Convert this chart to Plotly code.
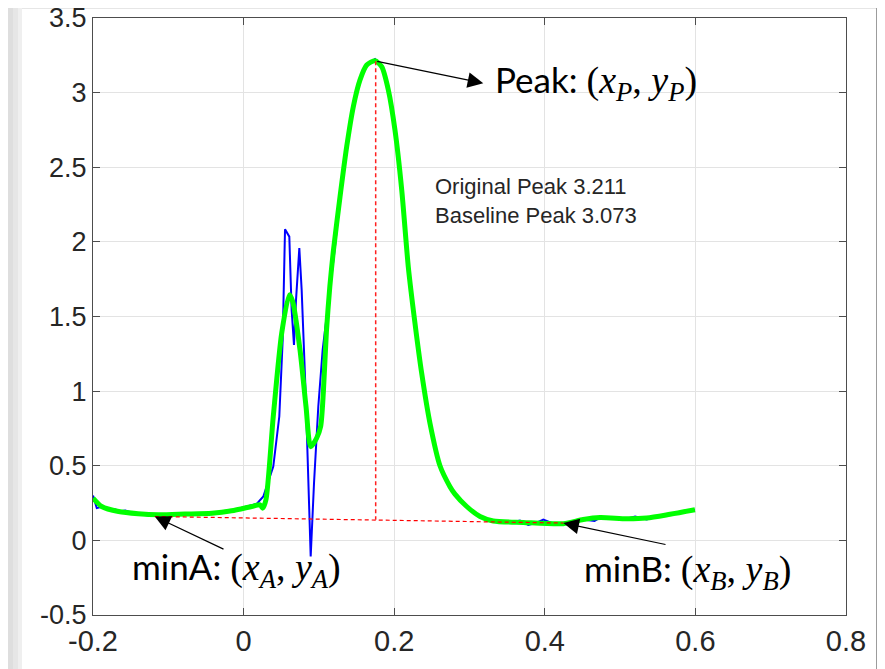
import plotly.graph_objects as go

# ---------------- data ----------------
orig_x = [-0.2, -0.195, -0.1885, -0.18, -0.172, -0.164, -0.157, -0.145, -0.124, -0.113,
          -0.078, -0.042, -0.016, -0.0048, 0.0174, 0.0262, 0.0394, 0.0474, 0.0519, 0.055,
          0.0607, 0.0638, 0.0669, 0.0696, 0.074, 0.0771, 0.0824, 0.0891, 0.0935, 0.0992,
          0.105, 0.1125, 0.117, 0.121, 0.128, 0.1369, 0.1457, 0.1546, 0.1635, 0.1745,
          0.1834, 0.1922, 0.201, 0.210, 0.2187, 0.2276, 0.2365, 0.2475, 0.2608, 0.2741,
          0.2807, 0.2963, 0.314, 0.3316, 0.36, 0.367, 0.378, 0.39, 0.398, 0.41,
          0.4246, 0.451, 0.466, 0.4733, 0.5088, 0.52, 0.5353, 0.545, 0.5663, 0.58, 0.5994]
orig_y = [0.30, 0.216, 0.225, 0.205, 0.21, 0.195, 0.20, 0.18, 0.165, 0.17,
          0.176, 0.182, 0.198, 0.216, 0.245, 0.294, 0.495, 0.83, 1.343, 2.085,
          2.035, 1.544, 1.31, 1.611, 1.958, 1.678, 0.986, -0.108, 0.383, 0.897,
          1.276, 1.60, 1.80, 1.95, 2.30, 2.638, 2.906, 3.085, 3.185, 3.225,
          3.174, 3.018, 2.75, 2.348, 1.834, 1.455, 1.12, 0.785, 0.50, 0.36,
          0.31, 0.227, 0.16, 0.13, 0.125, 0.133, 0.104, 0.12, 0.14, 0.115,
          0.112, 0.14, 0.13, 0.153, 0.145, 0.16, 0.14, 0.155, 0.175, 0.19, 0.205]

smooth_x = [-0.2, -0.1885, -0.166, -0.14, -0.113, -0.078, -0.042, -0.016, 0.0108, 0.0218,
            0.0254, 0.0297, 0.0394, 0.0506, 0.0607, 0.0652, 0.0749, 0.0829, 0.0891, 0.097,
            0.1023, 0.106, 0.110, 0.1145, 0.119, 0.128, 0.1369, 0.1457, 0.1546, 0.1635,
            0.1745, 0.1834, 0.1922, 0.201, 0.210, 0.2187, 0.2276, 0.2365, 0.2475, 0.2608,
            0.2741, 0.2807, 0.2963, 0.314, 0.3316, 0.3714, 0.4246, 0.451, 0.4733, 0.5088,
            0.5353, 0.5663, 0.5994]
smooth_y = [0.283, 0.227, 0.193, 0.178, 0.171, 0.176, 0.182, 0.198, 0.227, 0.238,
            0.216, 0.272, 0.83, 1.388, 1.645, 1.60, 1.276, 0.896, 0.628, 0.685,
            0.763, 1.0, 1.40, 1.70, 1.93, 2.30, 2.638, 2.906, 3.085, 3.185,
            3.214, 3.174, 3.018, 2.75, 2.348, 1.834, 1.455, 1.12, 0.785, 0.50,
            0.36, 0.31, 0.227, 0.16, 0.13, 0.12, 0.112, 0.14, 0.153, 0.145,
            0.15, 0.175, 0.205]

minA = (-0.118, 0.16)
minB = (0.4246, 0.116)
peak = (0.1754, 3.211)
baseline_at_peak = 0.138
peak_text = ["Original Peak 3.211", "Baseline Peak 3.073"]

x_ticks = [-0.2, 0, 0.2, 0.4, 0.6, 0.8]
x_labels = ["-0.2", "0", "0.2", "0.4", "0.6", "0.8"]
y_ticks = [-0.5, 0, 0.5, 1, 1.5, 2, 2.5, 3, 3.5]
y_labels = ["-0.5", "0", "0.5", "1", "1.5", "2", "2.5", "3", "3.5"]

# ---------------- figure ----------------
OFF = 8                      # page body margin of the html page
W, H = 885 - OFF, 669 - OFF
L, R, T, B = 93 - OFF, 39, 18 - OFF, 54
pw, ph = W - L - R, H - T - B

def px(xp):                  # screen pixel -> paper x
    return (xp - OFF - L) / pw

def py(yp):                  # screen pixel -> paper y
    return (H - B - (yp - OFF)) / ph

fig = go.Figure()

fig.add_trace(go.Scatter(x=orig_x, y=orig_y, mode="lines",
                         line=dict(color="#0000ff", width=2), showlegend=False))
fig.add_trace(go.Scatter(x=smooth_x, y=smooth_y, mode="lines",
                         line=dict(color="#00ff00", width=5, shape="spline", smoothing=0.7),
                         showlegend=False))
fig.add_trace(go.Scatter(x=[minA[0], minB[0]], y=[minA[1], minB[1]], mode="lines",
                         line=dict(color="#ff0000", width=1.2, dash="4px,3px"), showlegend=False))
fig.add_trace(go.Scatter(x=[peak[0], peak[0]], y=[peak[1], baseline_at_peak], mode="lines",
                         line=dict(color="#ff2020", width=1.5, dash="4px,3px"), showlegend=False))

shapes = []
# background card with shadow
shapes.append(dict(type="rect", xref="paper", yref="paper", layer="below",
                   x0=px(OFF), x1=px(885), y0=py(669), y1=py(OFF),
                   fillcolor="#e6e6e6", line=dict(width=0)))
lefts = [(OFF, 13, "#dedede"), (13, 18, "#e6e6e6"), (18, 22, "#efefef")]
for a, b, c in lefts:
    shapes.append(dict(type="rect", xref="paper", yref="paper", layer="below",
                       x0=px(a), x1=px(b), y0=py(669), y1=py(OFF),
                       fillcolor=c, line=dict(width=0)))
shapes.append(dict(type="rect", xref="paper", yref="paper", layer="below",
                   x0=px(876), x1=px(885), y0=py(669), y1=py(OFF),
                   fillcolor="#9c9c9c", line=dict(width=0)))
shapes.append(dict(type="rect", xref="paper", yref="paper", layer="below",
                   x0=px(22), x1=px(876), y0=py(669), y1=py(OFF + 1),
                   fillcolor="#ffffff", line=dict(width=0)))

serif = "Liberation Serif"
def lab(word, sub):
    return (f"{word}: <span style='font-family:{serif};font-size:38px'>"
            f"(<i>x<sub>{sub}</sub></i>, <i>y<sub>{sub}</sub></i>)</span>")

ann_font = dict(family="Lato, Open Sans, sans-serif", size=35, color="#000000")
arrow = dict(showarrow=True, arrowhead=2, arrowsize=2.6, arrowwidth=1.2, arrowcolor="#000",
             xref="x", yref="y", axref="x", ayref="y", text="")
annotations = [
    dict(x=0.3183, y=3.063, ax=peak[0], ay=peak[1], **arrow),
    dict(x=minA[0], y=minA[1], ax=-0.0247, ay=-0.0633, **arrow),
    dict(x=minB[0], y=minB[1], ax=0.5623, ay=-0.0298, **arrow),
    dict(x=0.3312, y=3.065, xref="x", yref="y", text=lab("Peak", "P"), showarrow=False,
         xanchor="left", yanchor="middle", font=ann_font),
    dict(x=-0.151, y=-0.197, xref="x", yref="y", text=lab("minA", "A"), showarrow=False,
         xanchor="left", yanchor="middle", font=ann_font),
    dict(x=0.4494, y=-0.211, xref="x", yref="y", text=lab("minB", "B"), showarrow=False,
         xanchor="left", yanchor="middle", font=ann_font),
    dict(x=0.2515, y=2.276, xref="x", yref="y", text="<br>".join(peak_text), showarrow=False,
         xanchor="left", yanchor="middle", align="left",
         font=dict(family="Liberation Sans, Arial, sans-serif", size=22, color="#262626")),
]

axis_common = dict(showgrid=True, gridcolor="#e3e3e3", gridwidth=1, zeroline=False,
                   showline=True, linecolor="#4d4d4d", linewidth=1, mirror="ticks",
                   ticks="inside", ticklen=7, tickcolor="#4d4d4d", tickwidth=1,
                   automargin=False, ticklabeloverflow="allow")

fig.update_layout(
    width=W, height=H,
    margin=dict(l=L, r=R, t=T, b=B, autoexpand=False),
    paper_bgcolor="#e6e6e6", plot_bgcolor="#ffffff",
    showlegend=False,
    shapes=shapes, annotations=annotations,
    xaxis=dict(range=[-0.2, 0.8], tickvals=x_ticks, ticktext=x_labels,
               ticklabelstandoff=0,
               tickfont=dict(family="Liberation Sans, Arial, sans-serif", size=29,
                             color="#262626"), **axis_common),
    yaxis=dict(range=[-0.5, 3.5], tickvals=y_ticks, ticktext=y_labels,
               tickfont=dict(family="Liberation Sans, Arial, sans-serif", size=27,
                             color="#262626"), **axis_common),
)

fig.write_html("out.html")
